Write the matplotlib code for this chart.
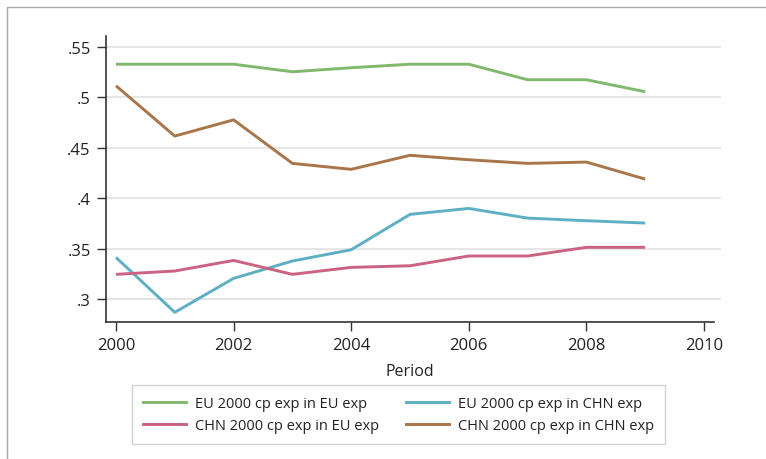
import matplotlib
matplotlib.use("Agg")
import matplotlib.pyplot as plt
from matplotlib.lines import Line2D
from matplotlib.patches import Rectangle

plt.rcParams['font.family'] = ['Open Sans', 'DejaVu Sans']

years = [2000, 2001, 2002, 2003, 2004, 2005, 2006, 2007, 2008, 2009]
eu_in_eu = [0.533, 0.533, 0.533, 0.5255, 0.5295, 0.533, 0.533, 0.5176, 0.5176, 0.5057]
eu_in_chn = [0.3413, 0.2868, 0.3205, 0.3377, 0.3489, 0.384, 0.3899, 0.3803, 0.3777, 0.3754]
chn_in_eu = [0.3245, 0.3278, 0.3383, 0.3245, 0.3314, 0.333, 0.3427, 0.3427, 0.3513, 0.3513]
chn_in_chn = [0.5116, 0.4617, 0.4778, 0.4346, 0.4287, 0.4426, 0.4382, 0.4346, 0.4359, 0.419]

labels = ["EU 2000 cp exp in EU exp", "EU 2000 cp exp in CHN exp",
          "CHN 2000 cp exp in EU exp", "CHN 2000 cp exp in CHN exp"]
colors = ["#80b86c", "#5fafc4", "#cb6282", "#a9754a"]

xticks = [2000, 2002, 2004, 2006, 2008, 2010]
yticks = [0.30, 0.35, 0.40, 0.45, 0.50, 0.55]
yticklabels = [".3", ".35", ".4", ".45", ".5", ".55"]

W, H = 766, 460
fig = plt.figure(figsize=(W / 100, H / 100), dpi=100)

# outer frame
fig.add_artist(Rectangle((6.5 / W, -0.1), 1.2, (H - 8) / H + 0.1, transform=fig.transFigure,
                         fill=False, edgecolor="#a8a8a8", linewidth=1.0))

left, right = 106 / W, 714 / W
bottom, top = 1 - 322.7 / H, 1 - 37 / H
ax = fig.add_axes([left, bottom, right - left, top - bottom])

# horizontal grid running slightly past the x axis end
ytrans = ax.get_yaxis_transform()
for yv in yticks:
    ax.plot([0, 1.01], [yv, yv], transform=ytrans, color="#e2e2e2",
            linewidth=1.2, zorder=0, clip_on=False)

series = [eu_in_eu, eu_in_chn, chn_in_eu, chn_in_chn]
for vals, c in zip(series, colors):
    ax.plot(years, vals, color=c, linewidth=2.1, solid_capstyle="butt", zorder=3)

ax.set_xlim(1999.83, 2010.17)
ax.set_ylim(0.2775, 0.561)
ax.set_xticks(xticks)
ax.set_xticklabels([str(x) for x in xticks])
ax.set_yticks(yticks)
ax.set_yticklabels(yticklabels)

for s in ["top", "right"]:
    ax.spines[s].set_visible(False)
for s in ["left", "bottom"]:
    ax.spines[s].set_color("#333333")
    ax.spines[s].set_linewidth(1.2)

ax.tick_params(axis="both", colors="#333333", labelcolor="#222222", labelsize=12,
               width=1.0, length=6.5, pad=4.5)
ax.set_xlabel("Period", fontsize=11.5, color="#222222", labelpad=7)

# legend filled column-first, so order entries to read row by row
order = [0, 2, 1, 3]
handles = [Line2D([], [], color=colors[i], linewidth=2.1) for i in order]
leg = fig.legend(handles, [labels[i] for i in order], ncol=2, loc="center",
                 bbox_to_anchor=((130 + 667) / 2 / W, 1 - 415.5 / H),
                 frameon=True, fancybox=False, fontsize=10.5,
                 handlelength=3.0, handletextpad=0.6, columnspacing=1.8,
                 labelspacing=0.45, borderpad=0.75)
leg.get_frame().set_edgecolor("#c8c8c8")
leg.get_frame().set_linewidth(1.0)
for t in leg.get_texts():
    t.set_color("#222222")

fig.savefig("out.png", dpi=100)
